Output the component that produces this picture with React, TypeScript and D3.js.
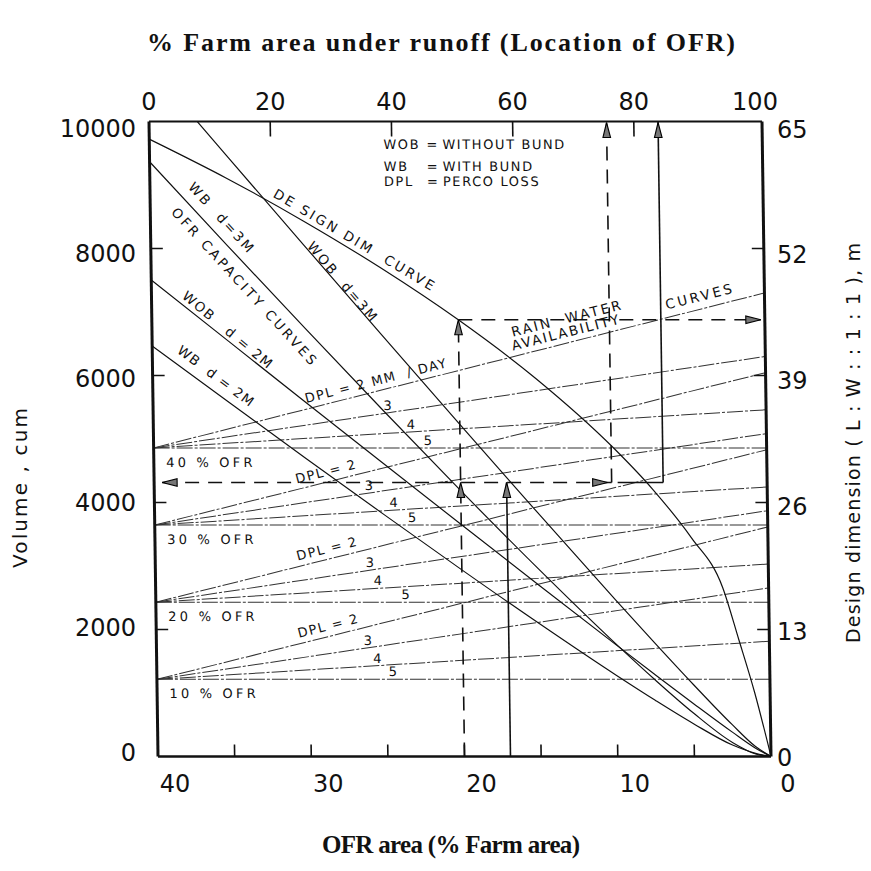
import React from 'react';
import * as d3 from 'd3';

// ---------- axes ----------
const bottomLabelValues = [40, 30, 20, 10, 0];
const bottomTickValues = [35, 30, 25, 20, 15, 10, 5];
const volumeLabelValues = [0, 2000, 4000, 6000, 8000, 10000];
const volumeTickValues = [2000, 4000, 6000, 8000];
const dimLabelValues = [0, 13, 26, 39, 52, 65];
const dimTickValues = [13, 26, 39, 52];
const topLabelValues = [0, 20, 40, 60, 80, 100];
const topTickValues = [20, 40, 60, 80];

// ---------- OFR capacity curves (volume, cum) ----------
const capArea = [40, 35, 30, 25, 20, 15, 10, 7.5, 5, 2.5, 1, 0];
const wobD3 = [10897, 9471, 8050, 6636, 5231, 3839, 2467, 1793, 1134, 501, 156, 0];
const wbD3 = [9367, 8046, 6741, 5453, 4187, 2954, 1769, 1208, 680, 221, 40, 0];
const wobD2 = [7505, 6537, 5572, 4611, 3653, 2701, 1758, 1292, 832, 384, 131, 0];
const wbD2 = [6466, 5570, 4682, 3805, 2939, 2093, 1275, 884, 512, 180, 50, 0];

// ---------- design dimension curve (m) ----------
const dimArea = [40, 35, 30, 25, 20, 15, 10, 7.5, 5, 3, 2, 1, 0];
const designDim = [63.2, 59.2, 54.8, 50.0, 44.7, 38.7, 31.6, 27.4, 22.4, 17.3, 12.0, 6.5, 0];

// ---------- rain water availability curves ----------
const ofrGroups = [10, 20, 30, 40];
const availAt40 = [1215, 2430, 3645, 4860];
const dpl2At0 = [3615, 4830, 6045, 7300];
const dpl3At0 = [2655, 3870, 5085, 6300];
const dpl4At0 = [1815, 3030, 4245, 5460];
const dpl5At0 = [1215, 2430, 3645, 4860];
const dplLabelArea3 = [26.2, 26.0, 26.0, 24.7];
const dplLabelArea4 = [25.6, 25.5, 24.4, 23.2];
const dplLabelArea5 = [24.6, 23.7, 23.2, 22.1];

// ---------- worked example ----------
const selectedArea = [20, 17];
const targetVolume = 4315;
const runoffShare = [75.5, 84];

// ---------- legend ----------
const legendKeys = ['WOB', 'WB', 'DPL'];
const legendMeanings = ['WITHOUT BUND', 'WITH BUND', 'PERCO LOSS'];

// ---------- curve labels (center in data units) ----------
const curveLabels = [
  { text: 'DE SIGN DIM  CURVE', area: 26.66, vol: 8134, angle: 31, spacing: 2.5 },
  { text: 'WOB  d=3M', area: 27.48, vol: 7472, angle: 50, spacing: 2.1 },
  { text: 'WB  d=3M', area: 35.32, vol: 8480, angle: 48, spacing: 2.5 },
  { text: 'OFR CAPACITY CURVES', area: 33.88, vol: 7394, angle: 48, spacing: 2.8 },
  { text: 'WOB   d = 2M', area: 35.03, vol: 6717, angle: 40, spacing: 1.5 },
  { text: 'WB  d = 2M', area: 35.85, vol: 5992, angle: 37, spacing: 1.2 },
  { text: 'RAIN  WATER', area: 12.9, vol: 6906, angle: -14, spacing: 2.5 },
  { text: 'AVAILABILITY', area: 12.98, vol: 6685, angle: -14, spacing: 2 },
  { text: 'CURVES', area: 4.21, vol: 7252, angle: -14, spacing: 2.8 },
];

const FONT = "'DejaVu Sans', sans-serif";
const SERIF = "'Liberation Serif', 'Times New Roman', serif";

export default function App() {
  const top = 121.5;
  const bottom = 756.5;
  const left = 149;
  const right = 762;
  const x = d3.scaleLinear().domain([40, 0]).range([left, right]);
  const y = d3.scaleLinear().domain([0, 10000]).range([bottom, top]);
  const yDim = d3.scaleLinear().domain([0, 65]).range([bottom, top]);
  const xTop = d3.scaleLinear().domain([0, 100]).range([149, 755]);
  const yLabL = d3.scaleLinear().domain([0, 10000]).range([752, 128.5]);
  const yLabR = d3.scaleLinear().domain([0, 65]).range([757, 129]);
  const skewDeg = (Math.atan(0.0142) * 180) / Math.PI;

  const volLine = d3
    .line<[number, number]>()
    .x((d) => x(d[0]))
    .y((d) => y(d[1]))
    .curve(d3.curveMonotoneX);
  const dimLine = d3
    .line<[number, number]>()
    .x((d) => x(d[0]))
    .y((d) => yDim(d[1]))
    .curve(d3.curveMonotoneX);

  const capCurves = [wobD3, wbD3, wobD2, wbD2];
  const designAt = d3.scaleLinear().domain(dimArea).range(designDim);
  const designSel = designAt(selectedArea[0]);

  const dplEnds = [dpl2At0, dpl3At0, dpl4At0, dpl5At0];
  const availLine = (g: number, k: number) =>
    d3.scaleLinear().domain([40, 0]).range([availAt40[g], dplEnds[k][g]]);
  const lineAngle = (g: number, k: number) => {
    const dx = x(0) - x(40);
    const dy = y(dplEnds[k][g]) - y(availAt40[g]);
    return (Math.atan2(dy, dx) * 180) / Math.PI;
  };

  const arrow = (tx: number, ty: number, dir: string) => {
    const L = 15;
    const w = 3.8;
    let pts = '';
    if (dir === 'up') pts = `${tx},${ty} ${tx - w},${ty + L} ${tx + w},${ty + L}`;
    if (dir === 'right') pts = `${tx},${ty} ${tx - L},${ty - w} ${tx - L},${ty + w}`;
    if (dir === 'left') pts = `${tx},${ty} ${tx + L},${ty - w} ${tx + L},${ty + w}`;
    return <polygon points={pts} fill="#777" stroke="#000" strokeWidth={1.1} />;
  };

  const ink = '#111';
  const dash = '14 9';

  const xDashTop = xTop(runoffShare[0]);
  const xSolidTop = xTop(runoffShare[1]);
  const yTarget = y(targetVolume);

  return (
    <svg
      width={871}
      height={871}
      style={{ position: 'absolute', left: 0, top: 0, background: '#fff' }}
    >
      <rect x={0} y={0} width={871} height={871} fill="#fff" />
      <defs>
        <clipPath id="plotClip">
          <rect x={left} y={top} width={right - left} height={bottom - top} />
        </clipPath>
      </defs>

      <g transform={`translate(0,${top}) skewX(${skewDeg}) translate(0,${-top})`}>
        <g clipPath="url(#plotClip)">
          {/* rain water availability curves */}
          {ofrGroups.map((_, g) =>
            dplEnds.map((ends, k) => (
              <line
                key={`av-${g}-${k}`}
                x1={x(40)}
                y1={y(availAt40[g])}
                x2={x(0)}
                y2={y(ends[g])}
                stroke="#333"
                strokeWidth={1}
                strokeDasharray="16 2 3 2"
              />
            ))
          )}
          {/* capacity curves */}
          {capCurves.map((vals, i) => (
            <path
              key={`cap-${i}`}
              d={volLine(capArea.map((a, j) => [a, vals[j]] as [number, number])) || ''}
              fill="none"
              stroke={ink}
              strokeWidth={1.2}
            />
          ))}
          {/* design dimension curve */}
          <path
            d={dimLine(dimArea.map((a, j) => [a, designDim[j]] as [number, number])) || ''}
            fill="none"
            stroke={ink}
            strokeWidth={1.2}
          />
        </g>

        {/* worked example */}
        <line x1={x(selectedArea[0])} y1={y(0)} x2={x(selectedArea[0])} y2={yDim(designSel)} stroke={ink} strokeWidth={1.6} strokeDasharray={dash} />
        <line x1={x(selectedArea[0])} y1={yDim(designSel)} x2={x(0) - 4} y2={yDim(designSel)} stroke={ink} strokeWidth={1.6} strokeDasharray={dash} />
        <line x1={x(40) + 8} y1={yTarget} x2={xDashTop} y2={yTarget} stroke={ink} strokeWidth={1.6} strokeDasharray={dash} />
        <line x1={xDashTop} y1={yTarget} x2={xDashTop} y2={y(10000)} stroke={ink} strokeWidth={1.6} strokeDasharray={dash} />
        <line x1={x(selectedArea[1])} y1={y(0)} x2={x(selectedArea[1])} y2={yTarget} stroke={ink} strokeWidth={1.6} />
        <line x1={xDashTop + 6} y1={yTarget} x2={xSolidTop} y2={yTarget} stroke={ink} strokeWidth={1.6} />
        <line x1={xSolidTop} y1={yTarget} x2={xSolidTop} y2={y(10000)} stroke={ink} strokeWidth={1.6} />
        {arrow(x(selectedArea[0]), yTarget, 'up')}
        {arrow(x(selectedArea[0]), yDim(designSel), 'up')}
        {arrow(x(selectedArea[1]), yTarget, 'up')}
        {arrow(xDashTop, y(10000) + 1, 'up')}
        {arrow(xSolidTop, y(10000) + 1, 'up')}
        {arrow(x(0) - 4, yDim(designSel), 'right')}
        {arrow(x(40) + 8, yTarget, 'left')}
        {arrow(xDashTop - 4, yTarget, 'right')}

        {/* frame */}
        <line x1={left} y1={top} x2={left} y2={bottom} stroke={ink} strokeWidth={3} />
        <line x1={right} y1={top} x2={right} y2={bottom} stroke={ink} strokeWidth={3} />
        <line x1={left} y1={top} x2={right} y2={top} stroke={ink} strokeWidth={2} />
        <line x1={left} y1={bottom} x2={right} y2={bottom} stroke={ink} strokeWidth={2.5} />

        {/* inner ticks */}
        {volumeTickValues.map((v) => (
          <line key={`lt-${v}`} x1={left} x2={left + 12} y1={y(v)} y2={y(v)} stroke={ink} strokeWidth={1.6} />
        ))}
        {dimTickValues.map((v) => (
          <line key={`rt-${v}`} x1={right} x2={right - 12} y1={yDim(v)} y2={yDim(v)} stroke={ink} strokeWidth={1.6} />
        ))}
        {topTickValues.map((v) => (
          <line key={`tt-${v}`} x1={xTop(v)} x2={xTop(v)} y1={top} y2={top + 15} stroke={ink} strokeWidth={1.6} />
        ))}
        {bottomTickValues.map((v) => (
          <line key={`bt-${v}`} x1={x(v)} x2={x(v)} y1={bottom} y2={bottom - 12} stroke={ink} strokeWidth={1.6} />
        ))}

        {/* OFR group labels */}
        {ofrGroups.map((g, i) => (
          <text
            key={`ofr-${g}`}
            x={x(39.2)}
            y={y(availAt40[i]) + 19}
            fontFamily={FONT}
            fontSize={13}
            letterSpacing={3.2}
            fill={ink}
          >
            {`${g} % OFR`}
          </text>
        ))}

        {/* DPL labels */}
        {ofrGroups.map((g, i) => {
          const a0 = i === 3 ? 29.9 : 30.6;
          const f = availLine(i, 0);
          return (
            <text
              key={`dpl2-${g}`}
              transform={`translate(${x(a0)},${y(f(a0))}) rotate(${lineAngle(i, 0)})`}
              y={-6}
              fontFamily={FONT}
              fontSize={13}
              letterSpacing={1.5}
              fill={ink}
              style={{ whiteSpace: 'pre' }}
            >
              {i === 3 ? 'DPL = 2 MM  / DAY' : 'DPL = 2'}
            </text>
          );
        })}
        {ofrGroups.map((g, i) =>
          [dplLabelArea3, dplLabelArea4, dplLabelArea5].map((arr, j) => {
            const f = availLine(i, j + 1);
            return (
              <text
                key={`dl-${g}-${j}`}
                x={x(arr[i])}
                y={y(f(arr[i])) - 3}
                textAnchor="middle"
                fontFamily={FONT}
                fontSize={13}
                fill={ink}
              >
                {String(j + 3)}
              </text>
            );
          })
        )}

        {/* curve labels */}
        {curveLabels.map((c, i) => (
          <text
            key={`cl-${i}`}
            transform={`translate(${x(c.area)},${y(c.vol)}) rotate(${c.angle})`}
            textAnchor="middle"
            dominantBaseline="central"
            fontFamily={FONT}
            fontSize={13.5}
            letterSpacing={c.spacing}
            fill={ink}
            style={{ whiteSpace: 'pre' }}
          >
            {c.text}
          </text>
        ))}

        {/* legend */}
        {legendKeys.map((k, i) => {
          const yy = [144, 166, 181][i];
          return (
            <g key={`lg-${k}`} fontFamily={FONT} fontSize={13} fill={ink} letterSpacing={1.6}>
              <text x={383} y={yy + 5}>{k}</text>
              <text x={426} y={yy + 5}>=</text>
              <text x={442} y={yy + 5}>{legendMeanings[i]}</text>
            </g>
          );
        })}
      </g>

      {/* tick labels */}
      {volumeLabelValues.map((v) => (
        <text key={`vl-${v}`} x={136} y={yLabL(v) + 8.7} textAnchor="end" fontFamily={FONT} fontSize={24} fill={ink}>
          {v}
        </text>
      ))}
      {dimLabelValues.map((v) => (
        <text key={`dl-${v}`} x={777} y={yLabR(v) + 8.7} textAnchor="start" fontFamily={FONT} fontSize={24} fill={ink}>
          {v}
        </text>
      ))}
      {topLabelValues.map((v) => (
        <text key={`tl-${v}`} x={xTop(v)} y={110} textAnchor="middle" fontFamily={FONT} fontSize={24} fill={ink}>
          {v}
        </text>
      ))}
      {bottomLabelValues.map((v) => (
        <text key={`bl-${v}`} x={x(v) + 26} y={792} textAnchor="middle" fontFamily={FONT} fontSize={24} fill={ink}>
          {v}
        </text>
      ))}

      {/* titles */}
      <text x={147} y={51} fontFamily={SERIF} fontWeight="bold" fontSize={26} textLength={588} lengthAdjust="spacing" fill={ink}>
        % Farm area under runoff (Location of OFR)
      </text>
      <text x={322} y={853} fontFamily={SERIF} fontWeight="bold" fontSize={25} textLength={258} lengthAdjust="spacing" fill={ink}>
        OFR area (% Farm area)
      </text>
      <text
        transform="translate(20,488) rotate(-90)"
        textAnchor="middle"
        dominantBaseline="central"
        fontFamily={FONT}
        fontSize={20}
        textLength={160}
        lengthAdjust="spacing"
        fill={ink}
      >
        Volume , cum
      </text>
      <text
        transform="translate(853,443) rotate(-90)"
        textAnchor="middle"
        dominantBaseline="central"
        fontFamily={FONT}
        fontSize={19}
        textLength={400}
        lengthAdjust="spacing"
        fill={ink}
      >
        Design dimension ( L : W : : 1 : 1 ), m
      </text>
    </svg>
  );
}
